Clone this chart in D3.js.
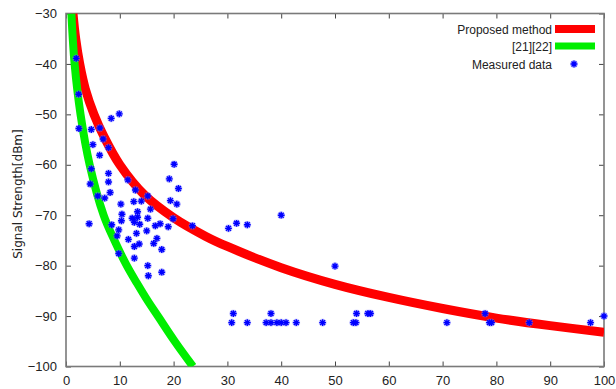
<!DOCTYPE html>
<html>
<head>
<meta charset="utf-8">
<script src="https://cdn.jsdelivr.net/npm/d3@7"></script>
<style>
  html, body { margin: 0; padding: 0; background: #fff; }
  svg { display: block; }
</style>
</head>
<body>
<svg id="chart" width="616" height="389"></svg>
<script>
// ---------------- data ----------------
const xTicks = [0, 10, 20, 30, 40, 50, 60, 70, 80, 90, 100];
const yTicks = [-100, -90, -80, -70, -60, -50, -40, -30];

const seriesNames = ["Proposed method", "[21][22]", "Measured data"];

// Proposed method curve (distance, RSS)
const proposedDist = [1.3, 1.8, 2.55, 3.6, 5.2, 7.1, 10, 14.6, 20, 26, 30, 40, 50, 60, 70, 80, 90, 100];
const proposedRSS  = [-30, -35, -40, -45, -50, -54.5, -60, -66, -70.5, -74.2, -76.2, -80.4, -83.7, -86.3, -88.5, -90.4, -91.9, -93.2];

// [21][22] curve
const refDist = [1.0, 1.6, 2.7, 4.4, 7.0, 9.0, 11.3, 13.2, 15.2, 17.2, 20.2, 23.6];
const refRSS  = [-30, -40, -50, -60, -70, -75, -80, -83.5, -87, -90.2, -95, -100];

// Measured data
const measDist = [
  1.9, 2.35, 2.4, 4.7, 6.3, 8.4, 9.9,
  5.0, 6.9, 6.25, 7.9, 4.7, 7.9, 7.9, 4.5, 11.5,
  20.1, 19.2, 12.9, 20.9, 5.9, 8.2, 7.2, 15.2,
  19.4, 20.6, 10.2, 12.6, 14.0, 15.7, 13.3, 10.4,
  12.3, 13.3, 15.2, 19.9, 12.7, 13.7, 4.3, 8.5,
  17.5, 16.6, 19.0, 23.5, 10.3, 9.8, 15.0, 13.1,
  9.5, 11.6, 16.9, 16.3, 13.6, 12.7, 17.8, 9.8,
  12.7, 15.2, 15.3, 17.8,
  30.2, 31.7, 33.7, 40.0, 50.0,
  30.8, 33.7, 37.2, 38.1, 39.2, 40.0, 40.9, 42.8, 47.7, 53.4, 53.9, 70.8, 78.7, 79.1, 86.1, 97.5,
  31.1, 38.1, 54.0, 56.1, 56.6, 77.9, 100.0
];
const measRSS = [
  -38.9, -46.0, -52.8, -53.0, -52.7, -50.8, -49.9,
  -56.0, -54.9, -58.1, -56.6, -60.8, -61.7, -63.4, -63.8, -63.0,
  -59.9, -62.8, -65.0, -64.7, -66.2, -65.5, -66.6, -66.2,
  -67.1, -67.8, -67.8, -67.3, -67.2, -68.8, -69.3, -69.8,
  -70.6, -70.4, -70.6, -70.7, -71.4, -71.8, -71.7, -71.9,
  -71.7, -72.1, -72.3, -72.1, -71.1, -72.9, -73.1, -73.6,
  -74.1, -74.8, -74.6, -75.6, -75.7, -76.2, -76.8, -77.6,
  -78.5, -80.0, -82.0, -81.3,
  -72.6, -71.6, -71.9, -70.0, -80.1,
  -91.3, -91.3, -91.3, -91.3, -91.3, -91.3, -91.3, -91.3, -91.3, -91.3, -91.3, -91.3, -91.3, -91.3, -91.3, -91.3,
  -89.5, -89.5, -89.5, -89.5, -89.5, -89.5, -90.0
];

const yTitle = "Signal Strength[dBm]";

// ---------------- drawing ----------------
const W = 616, H = 389;
const margin = { left: 66, right: 12, top: 13.5, bottom: 22.5 };
const pw = W - margin.left - margin.right;
const ph = H - margin.top - margin.bottom;

const svg = d3.select("#chart");
const g = svg.append("g").attr("transform", `translate(${margin.left},${margin.top})`);

const x = d3.scaleLinear().domain([0, 100]).range([0, pw]);
const y = d3.scaleLinear().domain([-100, -30]).range([ph, 0]);

svg.append("defs").append("clipPath").attr("id", "clip")
  .append("rect").attr("x", 0).attr("y", 0).attr("width", pw).attr("height", ph);

const frameColor = "#7a7a7a";
const tickFont = "'Liberation Sans', Arial, sans-serif";

// axes (inward ticks, mirrored)
const axB = d3.axisBottom(x).tickValues(xTicks).tickSize(-5).tickPadding(9).tickFormat(d3.format("d"));
const axT = d3.axisTop(x).tickValues(xTicks).tickSize(-5).tickFormat("");
const axL = d3.axisLeft(y).tickValues(yTicks).tickSize(-5).tickPadding(9).tickFormat(d3.format("d"));
const axR = d3.axisRight(y).tickValues(yTicks).tickSize(-5).tickFormat("");

function styleAxis(sel) {
  sel.selectAll(".domain").remove();
  sel.selectAll(".tick line").attr("stroke", "#444").attr("stroke-width", 1);
  sel.selectAll("text").attr("fill", "#222").style("font-family", tickFont).style("font-size", "13px");
}
g.append("g").attr("transform", `translate(0,${ph})`).call(axB).call(styleAxis);
g.append("g").call(axT).call(styleAxis);
g.append("g").call(axL).call(styleAxis);
g.append("g").attr("transform", `translate(${pw},0)`).call(axR).call(styleAxis);

// frame
g.append("rect").attr("x", 0).attr("y", 0).attr("width", pw).attr("height", ph)
  .attr("fill", "none").attr("stroke", frameColor).attr("stroke-width", 1.6);

// curves
const plot = g.append("g").attr("clip-path", "url(#clip)");
const line = d3.line().x(d => x(d[0])).y(d => y(d[1])).curve(d3.curveCatmullRom.alpha(0.5));

const redColor = "#ff0000", greenColor = "#00ee00", blueColor = "#0000ff";

plot.append("path")
  .datum(proposedDist.map((d, i) => [d, proposedRSS[i]]))
  .attr("d", line).attr("fill", "none").attr("stroke", redColor).attr("stroke-width", 9);

plot.append("path")
  .datum(refDist.map((d, i) => [d, refRSS[i]]))
  .attr("d", line).attr("fill", "none").attr("stroke", greenColor).attr("stroke-width", 8);

// star marker (gnuplot "*")
function starPath(s) {
  const a = s, b = s * 0.72;
  return `M${-a},0L${a},0M0,${-a}L0,${a}M${-b},${-b}L${b},${b}M${-b},${b}L${b},${-b}`;
}
const pts = measDist.map((d, i) => [d, measRSS[i]]);
const markers = g.append("g");
markers.selectAll("path.halo").data(pts).join("path")
  .attr("class", "halo")
  .attr("transform", d => `translate(${x(d[0])},${y(d[1])})`)
  .attr("d", starPath(3.8)).attr("stroke", "#8080ff").attr("stroke-width", 2.8)
  .attr("stroke-opacity", 0.45).attr("fill", "none");
markers.selectAll("path.star").data(pts).join("path")
  .attr("class", "star")
  .attr("transform", d => `translate(${x(d[0])},${y(d[1])})`)
  .attr("d", starPath(3.4)).attr("stroke", blueColor).attr("stroke-width", 1.4).attr("fill", "none");

// legend
const legFont = "'Liberation Sans', Arial, sans-serif";
const legend = svg.append("g");
const legRows = [
  { name: seriesNames[0], type: "line", color: redColor, w: 8, y: 29 },
  { name: seriesNames[1], type: "line", color: greenColor, w: 7, y: 46 },
  { name: seriesNames[2], type: "star", color: blueColor, y: 64 }
];
legRows.forEach(r => {
  legend.append("text").attr("x", 552).attr("y", r.y + 4.5)
    .attr("text-anchor", "end").attr("fill", "#222")
    .style("font-family", legFont).style("font-size", "12px").text(r.name);
  if (r.type === "line") {
    legend.append("line").attr("x1", 555).attr("x2", 595).attr("y1", r.y).attr("y2", r.y)
      .attr("stroke", r.color).attr("stroke-width", r.w);
  } else {
    legend.append("path").attr("transform", `translate(574,${r.y})`)
      .attr("d", starPath(3.8)).attr("stroke", "#8080ff").attr("stroke-width", 2.8)
      .attr("stroke-opacity", 0.45).attr("fill", "none");
    legend.append("path").attr("transform", `translate(574,${r.y})`)
      .attr("d", starPath(3.4)).attr("stroke", r.color).attr("stroke-width", 1.4).attr("fill", "none");
  }
});

// y axis title
svg.append("text")
  .attr("transform", `translate(22,194) rotate(-90)`)
  .attr("text-anchor", "middle").attr("fill", "#222")
  .style("font-family", "'DejaVu Sans', sans-serif").style("font-size", "12px")
  .text(yTitle);
</script>
</body>
</html>
